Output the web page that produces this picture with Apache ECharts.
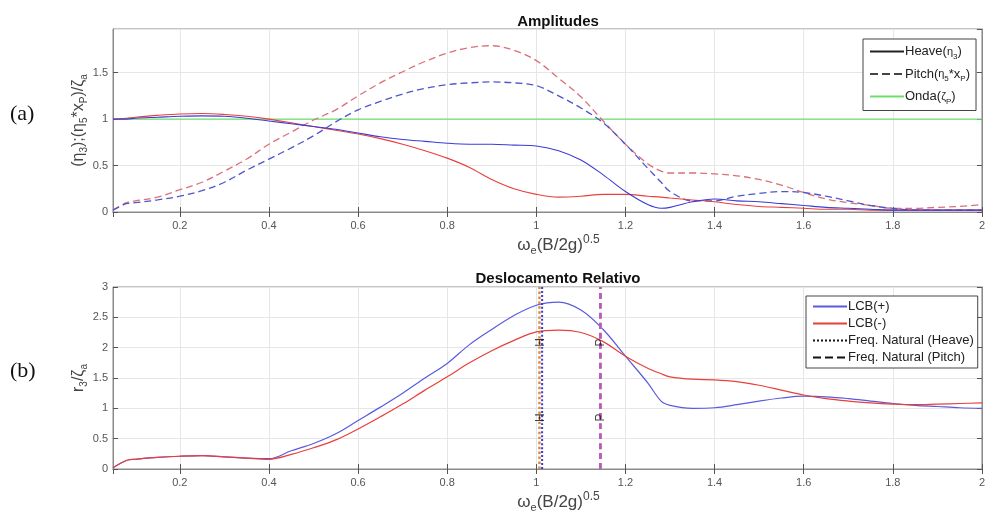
<!DOCTYPE html>
<html>
<head>
<meta charset="utf-8">
<script src="https://cdn.jsdelivr.net/npm/echarts@6/dist/echarts.min.js"></script>
<style>
  html, body { margin: 0; padding: 0; background: #fff; }
  #chart { width: 988px; height: 518px; }
</style>
</head>
<body>
<div id="chart"></div>
<script>
// frequencia adimensional
var omega = [0.05, 0.08, 0.1, 0.15, 0.2, 0.25, 0.3, 0.35, 0.4, 0.45, 0.5, 0.55, 0.6, 0.65, 0.7, 0.75,
  0.8, 0.85, 0.9, 0.95, 1.0, 1.05, 1.1, 1.15, 1.2, 1.25, 1.28, 1.3, 1.35, 1.4, 1.45, 1.5, 1.55,
  1.6, 1.65, 1.7, 1.75, 1.8, 1.85, 1.9, 1.95, 2.0];

// (a) amplitudes
var heavePlus = [1.0, 1.0, 1.01, 1.02, 1.03, 1.035, 1.03, 1.01, 0.98, 0.95, 0.92, 0.89, 0.85, 0.81, 0.78, 0.76,
  0.74, 0.73, 0.73, 0.72, 0.71, 0.66, 0.56, 0.40, 0.22, 0.08, 0.04, 0.05, 0.11, 0.14, 0.12, 0.11, 0.09,
  0.07, 0.05, 0.04, 0.03, 0.02, 0.02, 0.02, 0.02, 0.02];
var heaveMinus = [1.0, 1.01, 1.02, 1.04, 1.055, 1.06, 1.05, 1.03, 1.0, 0.96, 0.92, 0.88, 0.84, 0.79, 0.73, 0.66,
  0.58, 0.48, 0.35, 0.25, 0.19, 0.16, 0.17, 0.19, 0.19, 0.17, 0.16, 0.15, 0.13, 0.11, 0.08, 0.06, 0.05,
  0.04, 0.03, 0.03, 0.02, 0.02, 0.02, 0.02, 0.02, 0.02];
var pitchPlus = [0.02, 0.09, 0.1, 0.13, 0.17, 0.23, 0.32, 0.45, 0.57, 0.69, 0.82, 0.97, 1.1, 1.19, 1.27, 1.33,
  1.37, 1.39, 1.40, 1.39, 1.36, 1.25, 1.12, 0.96, 0.73, 0.47, 0.32, 0.22, 0.12, 0.12, 0.17, 0.2, 0.22,
  0.21, 0.17, 0.12, 0.07, 0.04, 0.02, 0.02, 0.02, 0.02];
var pitchMinus = [0.02, 0.1, 0.12, 0.16, 0.24, 0.32, 0.44, 0.57, 0.73, 0.86, 0.99, 1.1, 1.25, 1.39, 1.51, 1.62,
  1.71, 1.77, 1.79, 1.74, 1.63, 1.44, 1.24, 0.98, 0.73, 0.52, 0.44, 0.42, 0.42, 0.41, 0.39, 0.35, 0.29,
  0.21, 0.14, 0.1, 0.07, 0.04, 0.04, 0.05, 0.06, 0.08];
var ondaX = [0.05, 2.0];
var onda = [1.0, 1.0];

// (b) deslocamento relativo
var relPlus = [0.02, 0.14, 0.16, 0.19, 0.21, 0.22, 0.2, 0.18, 0.17, 0.3, 0.42, 0.58, 0.8, 1.02, 1.25, 1.5,
  1.74, 2.05, 2.3, 2.53, 2.7, 2.75, 2.62, 2.3, 1.86, 1.42, 1.12, 1.05, 1.0, 1.01, 1.06, 1.12, 1.17,
  1.2, 1.19, 1.16, 1.12, 1.08, 1.05, 1.03, 1.01, 1.0];
var relMinus = [0.02, 0.14, 0.16, 0.19, 0.21, 0.22, 0.2, 0.18, 0.16, 0.24, 0.35, 0.48, 0.66, 0.86, 1.07, 1.3,
  1.52, 1.75, 1.95, 2.12, 2.26, 2.29, 2.25, 2.1, 1.86, 1.66, 1.57, 1.52, 1.48, 1.47, 1.44, 1.38, 1.3,
  1.22, 1.16, 1.12, 1.09, 1.07, 1.06, 1.07, 1.08, 1.09];

// frequencias naturais
var freqHeave = 1.01;
var freqPitch = 1.144;
var freqLineY = [0, 3];
var freqLabelY = [0.88, 2.12];

var BLUE = '#3c3cd6';
var RED = '#e8403a';
var BLUE_D = '#4e56c8';
var RED_D = '#d9707a';
var GREEN = '#6fe070';
var BOX = '#8a8a8a';
var FONT = 'Liberation Sans';

function pairs(xs, ys) {
  return xs.map(function (x, i) { return [x, ys[i]]; });
}

var chart = echarts.init(document.getElementById('chart'));

var xRich = {
  t: { fontSize: 17, color: '#444', fontFamily: FONT, lineHeight: 22 },
  sub: { fontSize: 11, color: '#444', fontFamily: FONT, verticalAlign: 'bottom', lineHeight: 12 },
  sup: { fontSize: 12, color: '#444', fontFamily: FONT, verticalAlign: 'top', lineHeight: 12 }
};
var yRich = {
  t: { fontSize: 16, color: '#444', fontFamily: FONT, lineHeight: 20 },
  sub: { fontSize: 10, color: '#444', fontFamily: FONT, verticalAlign: 'bottom', lineHeight: 12 }
};
var xName = '{t|ω}{sub|e}{t|(B/2g)}{sup|0.5}';

function xAxisPair(grid) {
  var main = {
    type: 'value', gridIndex: grid, min: 0.05, max: 2, splitNumber: 10,
    name: xName, nameLocation: 'middle', nameGap: 22, nameMoveOverlap: false,
    nameTextStyle: { rich: xRich, padding: [0, 0, 0, 22] },
    axisLine: { show: true, lineStyle: { color: BOX, width: 1 } },
    axisTick: { inside: true, length: 5, lineStyle: { color: '#555' } },
    axisLabel: { color: '#555', fontSize: 11, fontFamily: FONT, margin: 8, showMinLabel: false },
    splitLine: { show: true, lineStyle: { color: '#e6e6e6' } }
  };
  var top = {
    type: 'value', gridIndex: grid, position: 'top', min: 0.05, max: 2, splitNumber: 10,
    axisLine: { show: true, lineStyle: { color: BOX } },
    axisTick: { inside: true, length: 5, lineStyle: { color: '#555' } },
    axisLabel: { show: false }, splitLine: { show: false }
  };
  return [main, top];
}

function yAxisPair(grid, max, name, gap) {
  var main = {
    type: 'value', gridIndex: grid, min: 0, max: max, interval: 0.5,
    name: name, nameLocation: 'middle', nameGap: gap, nameRotate: 90, nameMoveOverlap: false,
    nameTextStyle: { rich: yRich },
    axisLine: { show: true, lineStyle: { color: BOX } },
    axisTick: { inside: true, length: 5, lineStyle: { color: '#555' } },
    axisLabel: { color: '#555', fontSize: 11, fontFamily: FONT, margin: 5, showMaxLabel: max === 3 },
    splitLine: { show: true, lineStyle: { color: '#e6e6e6' } }
  };
  var right = {
    type: 'value', gridIndex: grid, position: 'right', min: 0, max: max, interval: 0.5,
    axisLine: { show: true, lineStyle: { color: BOX } },
    axisTick: { inside: true, length: 5, lineStyle: { color: '#555' } },
    axisLabel: { show: false }, splitLine: { show: false }
  };
  return [main, right];
}

var yNameTop = '{t|(η}{sub|3}{t|);(η}{sub|5}{t|*x}{sub|P}{t|)/ζ}{sub|a}';
var yNameBot = '{t|r}{sub|3}{t|/ζ}{sub|a}';

function line(name, xi, yi, data, color, type, width) {
  return {
    name: name, type: 'line', xAxisIndex: xi, yAxisIndex: yi, data: data,
    symbol: 'none', smooth: 0.35, silent: true,
    lineStyle: { color: color, type: type, width: width || 1.2 },
    itemStyle: { color: color }
  };
}

function freqMarks(x, color, type, width) {
  return line('_f' + x + color, 2, 2, [[x, freqLineY[0]], [x, freqLineY[1]]], color, type, width);
}

function freqLabels(x, text) {
  return {
    name: '_lab' + text, type: 'scatter', xAxisIndex: 2, yAxisIndex: 2, symbolSize: 2, silent: true,
    itemStyle: { color: 'rgba(0,0,0,0)' }, z: 10,
    data: freqLabelY.map(function (y) { return [x, y]; }),
    label: { show: true, formatter: text, position: 'inside', offset: [-2, 0], rotate: 90,
      color: '#111', fontSize: 12, fontFamily: FONT }
  };
}

var series = [
  // legend-only entries (a)
  line('heaveLeg', 0, 0, [], '#222', 'solid', 1),
  line('pitchLeg', 0, 0, [], '#444', 'dashed', 1),
  line('ondaLeg', 0, 0, [], GREEN, 'solid', 1),
  // (a)
  line('ondaA', 0, 0, pairs(ondaX, onda), GREEN, 'solid', 1.2),
  line('pitchMinusA', 0, 0, pairs(omega, pitchMinus), RED_D, [7, 4], 1.3),
  line('pitchPlusA', 0, 0, pairs(omega, pitchPlus), BLUE_D, [7, 4], 1.3),
  line('heaveMinusA', 0, 0, pairs(omega, heaveMinus), RED, 'solid', 1.1),
  line('heavePlusA', 0, 0, pairs(omega, heavePlus), BLUE, 'solid', 1.1),
  // (b)
  line('LCB(+)', 2, 2, pairs(omega, relPlus), '#5a5ae0', 'solid', 1.2),
  line('LCB(-)', 2, 2, pairs(omega, relMinus), RED, 'solid', 1.2),
  line('Freq. Natural (Heave)', 2, 2, [], '#111', 'dotted', 1.2),
  line('Freq. Natural (Pitch)', 2, 2, [], '#111', 'dashed', 1.2),
  freqMarks(freqHeave - 0.003, '#e08a40', 'dotted', 2.5),
  freqMarks(freqHeave + 0.003, '#3a3ad8', 'dotted', 2),
  freqMarks(freqPitch, '#d868a8', [6, 4], 3),
  freqMarks(freqPitch - 0.001, '#7a60d8', [6, 4], 1),
  freqLabels(freqHeave, 'H'),
  freqLabels(freqPitch, 'P')
];

var legRich = {
  t: { fontSize: 13, color: '#222', fontFamily: FONT, lineHeight: 18 },
  g: { fontSize: 11, color: '#222', fontFamily: FONT, lineHeight: 18 },
  sub: { fontSize: 8, color: '#222', fontFamily: FONT, verticalAlign: 'bottom', lineHeight: 10 }
};
var legNames = {
  heaveLeg: '{t|Heave(}{g|η}{sub|3}{t|)}',
  pitchLeg: '{t|Pitch(}{g|η}{sub|5}{t|*x}{sub|P}{t|)}',
  ondaLeg: '{t|Onda(}{g|ζ}{sub|P}{t|)}'
};

var option = {
  animation: false,
  backgroundColor: '#fff',
  textStyle: { fontFamily: FONT },
  title: [
    { text: 'Amplitudes', left: 553, top: 9, textAlign: 'center',
      textStyle: { fontSize: 15, fontWeight: 'bold', color: '#111', fontFamily: FONT } },
    { text: 'Deslocamento Relativo', left: 553, top: 266, textAlign: 'center',
      textStyle: { fontSize: 15, fontWeight: 'bold', color: '#111', fontFamily: FONT } }
  ],
  grid: [
    { left: 113, top: 29, width: 870, height: 183, show: true, borderColor: BOX, borderWidth: 1 },
    { left: 113, top: 287, width: 870, height: 182, show: true, borderColor: BOX, borderWidth: 1 }
  ],
  xAxis: xAxisPair(0).concat(xAxisPair(1)),
  yAxis: yAxisPair(0, 1.97, yNameTop, 24).concat(yAxisPair(1, 3, yNameBot, 24)),
  legend: [
    {
      data: ['heaveLeg', 'pitchLeg', 'ondaLeg'],
      orient: 'vertical', left: 863, top: 39, itemWidth: 34, itemHeight: 14, itemGap: 7,
      padding: [6, 6, 5, 6], backgroundColor: '#fff', borderColor: '#444', borderWidth: 1,
      itemStyle: { opacity: 0 },
      formatter: function (n) { return legNames[n]; },
      textStyle: { rich: legRich, padding: [0, 0, 0, -4] }
    },
    {
      data: ['LCB(+)', 'LCB(-)', 'Freq. Natural (Heave)', 'Freq. Natural (Pitch)'],
      orient: 'vertical', left: 806, top: 296, itemWidth: 34, itemHeight: 14, itemGap: 4,
      padding: [4, 4, 4, 6], backgroundColor: '#fff', borderColor: '#444', borderWidth: 1,
      itemStyle: { opacity: 0 },
      textStyle: { fontSize: 13, color: '#222', fontFamily: FONT, padding: [0, 0, 0, -4] }
    }
  ],
  graphic: [
    { type: 'text', left: 10, top: 103, style: { text: '(a)', fontSize: 22, fontFamily: 'Liberation Serif', fill: '#111' } },
    { type: 'text', left: 10, top: 360, style: { text: '(b)', fontSize: 22, fontFamily: 'Liberation Serif', fill: '#111' } }
  ],
  series: series
};

chart.setOption(option);
window.onresize = chart.resize;
</script>
</body>
</html>
